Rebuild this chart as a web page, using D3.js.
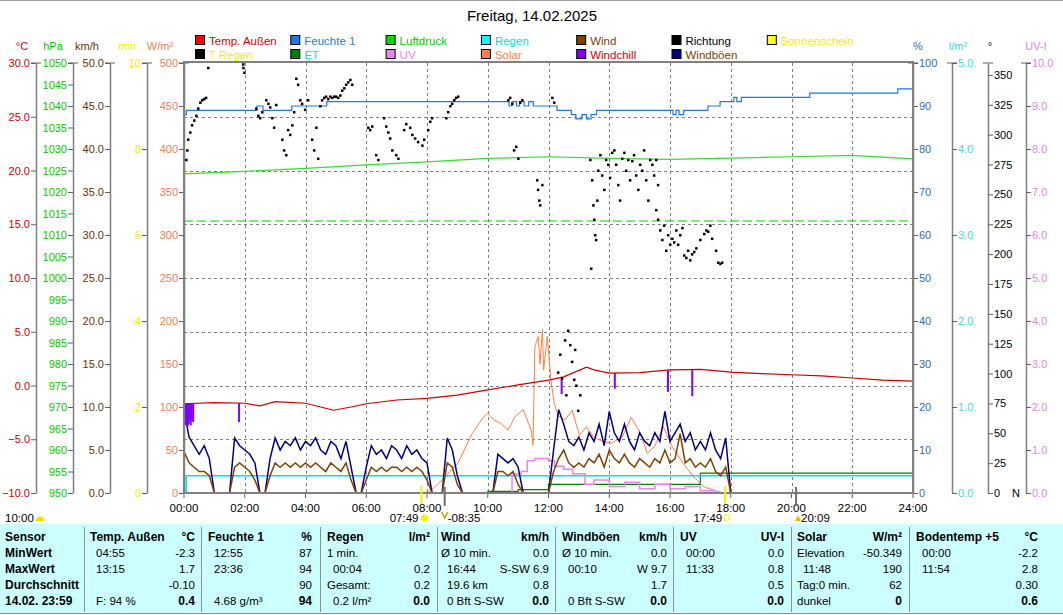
<!DOCTYPE html>
<html lang="de">
<head>
<meta charset="utf-8">
<title>Freitag, 14.02.2025</title>
<script src="https://cdn.jsdelivr.net/npm/d3@7"></script>
<style>
  body { margin: 0; background: #fff; }
  svg { display: block; }
</style>
</head>
<body>
<svg id="chart" width="1063" height="615"></svg>
<script>
// ---- data (hours since 00:00) ----
var tempT = [0,1,2,2.5,3,4,4.5,4.92,5.5,6,7,8,9,10,11,12,12.5,13.25,13.5,14,15,16,17,18,19,20,21,22,23,24];
var tempV = [-1.7,-1.6,-1.65,-1.9,-1.5,-1.65,-2.0,-2.3,-2.0,-1.7,-1.35,-1.2,-0.9,-0.4,0.05,0.5,0.8,1.7,1.45,1.15,1.2,1.45,1.5,1.25,1.1,1.0,0.9,0.7,0.5,0.4];

// windchill dips [hour, °C]
var chillDips = [[0.0,-3.5],[0.03,-3.7],[0.06,-3.4],[0.09,-3.8],[0.12,-3.6],[0.15,-3.3],[0.19,-3.7],[0.22,-3.2],[0.27,-3.4],
                 [1.78,-3.4],[12.4,-0.8],[14.15,-0.3],[15.9,-0.6],[16.7,-1.0]];

var presT = [0,2,4,6,8,10,12,14,16,18,20,22,24];
var presV = [1024.2,1024.8,1025.5,1026.3,1027.0,1027.8,1028.2,1027.8,1027.6,1027.9,1028.2,1028.5,1027.7];

var humT = [0,0.08,2.4,2.6,3.55,4.7,10.7,10.8,10.95,11.05,11.2,11.35,11.5,11.87,12.28,12.75,12.9,13.1,13.25,13.4,13.58,16.1,16.2,16.3,16.45,17.25,17.65,18.1,18.2,18.35,20.6,23.5,24];
var humV = [88,89,90,89,90,91,90,91,90,91,90,91,90,90,89,88,87,88,87,88,89,88,89,88,89,90,91,92,91,92,93,94,94];

var rainT = [0,0.07,24];
var rainV = [0,0.2,0.2];

var etT = [0,10.0,11.0,12.0,17.0,24];
var etV = [0,0.02,0.04,0.1,0.23,0.23];

var solarT = [0,7.8,8.08,8.55,9.02,9.49,9.79,9.99,10.2,10.43,10.67,10.9,11.17,11.43,11.49,11.55,11.66,11.72,11.8,11.84,11.96,12.08,12.19,12.31,12.54,12.78,13.02,13.25,13.49,13.78,14.07,14.43,14.72,15.02,15.25,15.49,15.78,16.07,16.42,16.78,17.13,17.6,17.8,24];
var solarV = [0,0,1.5,17,35,69,85,93,85,81,73,89,97,73,56,170,182,150,190,143,182,131,104,90,85,96,67,77,65,60,58,65,88,70,46,54,77,54,35,19,7,1.5,0,0];

var uvT = [0,10.7,10.8,11.1,11.3,11.55,12.0,12.2,12.5,12.8,13.2,13.5,14.0,14.5,15.0,15.5,16.0,16.5,17.0,17.5,24];
var uvV = [0,0,0.45,0.5,0.75,0.8,0.75,0.62,0.55,0.45,0.2,0.3,0.15,0.25,0.1,0.2,0.1,0.15,0.05,0,0];

// 10-minute values, km/h
var gust10 = [
  9.7,6.5,5.5,4.5,5.5,4,   0,0,0,0,6.4,5.5,   5,4.5,3.5,0,0,4,     6.4,5,6,5.5,6.4,5,
  6,5.5,6.4,5,4.5,6,       5.5,4,6,3,0,0,     3,5.5,4.5,5,4,5.5,   5,4,5.5,4.5,5,4,
  3.5,0,0,0,6.4,5,         2,0,0,0,0,0,       0,0,4.5,4,3.5,4,     3,0,0,0,0,0,
  0,5,9.7,8,6,5.5,         6.5,5,7,6,8,5.5,   9.5,7,6,8,6,5,       7,6,5.5,7,6,9.5,
  6,7,8,6,7,5,             6,5,7,5,4,6.4,     0,0,0,0,0,0,         0,0,0,0,0,0,
  0,0,0,0,0,0,             0,0,0,0,0,0,       0,0,0,0,0,0,         0,0,0,0,0,0];
var wind10 = [
  4.8,3.5,3,2.5,2.5,2,     0,0,0,0,3,3.5,     3,2.5,1.5,0,0,2,     3.5,3,3.5,3,3.5,3,
  3.5,3,3.5,3,2.5,3.5,     3,2.5,3.5,1.5,0,0, 1.5,3,2.5,3,2.5,3,   3,2.5,3,2.5,3,2.5,
  1.5,0,0,0,3.5,3,         1,0,0,0,0,0,       0,0,2.5,2.5,2,2.5,   1,0,0,0,0,0,
  0,2.5,4,5,3.5,3,         3.5,3,4,3.5,4.5,3, 5,4,3.5,4.5,3.5,3,   4,3.5,3,4,3.5,5,
  3.5,4,6.9,3.5,4,3,       3.5,3,4,2.5,2,3,   0,0,0,0,0,0,         0,0,0,0,0,0,
  0,0,0,0,0,0,             0,0,0,0,0,0,       0,0,0,0,0,0,         0,0,0,0,0,0];

// wind direction dots [hour, degrees]
var dirPoints = [
  [0.07,279],[0.10,287],[0.13,296],[0.20,302],[0.26,308],[0.33,312],[0.40,316],[0.46,322],[0.53,327],[0.59,329],[0.66,330],[0.72,331],[0.79,356],
  [1.94,359],[1.95,356],[1.98,352],
  [2.37,322],[2.44,316],[2.50,314],[2.57,319],[2.70,329],[2.77,326],[2.83,323],[2.90,314],[2.96,306],[3.03,325],[3.23,296],[3.29,287],[3.36,283],[3.42,304],[3.49,300],[3.56,308],[3.62,319],
  [3.69,347],[3.75,342],[3.82,329],[3.88,326],[3.98,321],[4.08,329],[4.21,296],[4.28,287],[4.35,306],[4.41,280],[4.48,324],[4.54,329],[4.61,331],[4.67,332],[4.74,330],[4.81,332],[4.87,331],[4.94,332],[5.00,332],[5.07,331],[5.14,333],[5.20,337],[5.27,339],[5.33,342],[5.40,344],[5.47,346],[5.53,342],
  [6.06,306],[6.12,304],[6.19,307],[6.32,283],[6.39,279],[6.58,314],[6.65,307],[6.72,302],[6.78,297],[6.85,287],[6.98,283],[7.05,280],
  [7.24,304],[7.31,309],[7.44,306],[7.51,300],[7.60,297],[7.70,294],[7.84,291],[7.90,296],[8.03,304],[8.10,311],[8.16,314],
  [8.63,314],[8.69,319],[8.76,324],[8.82,326],[8.89,329],[8.95,331],[9.02,332],
  [10.67,329],[10.73,331],[10.80,326],[10.86,287],[10.93,290],[11.00,280],[11.06,327],[11.13,329],
  [11.62,262],[11.65,254],[11.69,245],[11.72,241],[11.79,258],[12.12,331],[12.18,327],
  [12.31,101],[12.38,116],[12.44,96],[12.54,128],[12.58,82],[12.64,136],[12.71,124],[12.77,110],[12.84,95],[12.87,120],[12.91,90],[12.97,69],[13.04,82],
  [13.37,279],[13.40,188],[13.43,262],[13.47,241],[13.50,229],[13.53,216],[13.56,212],[13.60,245],[13.63,270],[13.70,283],[13.76,266],[13.83,254],[13.89,279],[13.96,275],[14.02,264],[14.09,285],[14.16,287],[14.22,275],[14.29,258],[14.35,245],[14.42,280],[14.49,285],[14.55,270],[14.62,279],[14.68,262],[14.75,278],[14.81,283],[14.88,266],[14.95,254],[15.01,275],[15.08,270],[15.14,287],[15.21,262],[15.28,245],[15.34,279],[15.41,275],[15.47,266],[15.54,279],[15.60,258],
  [15.54,237],[15.60,229],[15.67,220],[15.74,212],[15.80,224],[15.87,203],[15.93,216],[16.00,208],[16.07,213],[16.13,210],[16.20,220],[16.26,208],[16.33,216],[16.40,222],[16.46,199],[16.53,197],[16.59,203],[16.66,195],[16.72,200],[16.79,202],[16.86,205],[16.99,212],[17.12,217],[17.19,220],[17.25,219],[17.32,224],[17.38,213],[17.51,203],[17.58,193],[17.65,192],[17.71,193]
];

var sunRise = 7.817, sunSet = 17.817, moonSet = 8.583, moonRise = 20.15;

// legend
var legendRow1 = [["Temp. Außen","#ff0000","#e00000"],["Feuchte 1","#1e78e6","#1e78e6"],["Luftdruck","#00e000","#00cc00"],["Regen","#00ffff","#00e0e0"],["Wind","#804000","#804000"],["Richtung","#000000","#000000"],["Sonnenschein","#ffff00","#f0f000"]];
var legendRow2 = [["T Regen","#000000","#f0f000"],["ET","#007f00","#00e0e0"],["UV","#ee82ee","#ee82ee"],["Solar","#ff8040","#ff8040"],["Windchill","#8000ff","#e00000"],["Windböen","#000080","#804000"]];

// table
var rowNames = ["Sensor","MinWert","MaxWert","Durchschnitt","14.02. 23:59"];
var tableHeads = ["Temp. Außen","Feuchte 1","Regen","Wind","Windböen","UV","Solar","Bodentemp +5"];
var tableUnits = ["°C","%","l/m²","km/h","km/h","UV-I","W/m²","°C"];
var tableLeft = [
  ["04:55","13:15","","F: 94 %"],
  ["12:55","23:36","","4.68 g/m³"],
  ["1 min.","00:04","Gesamt:","0.2 l/m²"],
  ["Ø 10 min.","16:44","19.6 km","0 Bft S-SW"],
  ["Ø 10 min.","00:10","","0 Bft S-SW"],
  ["00:00","11:33","",""],
  ["Elevation","11:48","Tag:0 min.","dunkel"],
  ["00:00","11:54","",""]];
var tableRight = [
  ["-2.3","1.7","-0.10","0.4"],
  ["87","94","90","94"],
  ["","0.2","0.2","0.0"],
  ["0.0","S-SW 6.9","0.8","0.0"],
  ["0.0","W 9.7","1.7","0.0"],
  ["0.0","0.8","0.5","0.0"],
  ["-50.349","190","62","0"],
  ["-2.2","2.8","0.30","0.6"]];

// ---- drawing ----
var FONT = '"Liberation Sans", Arial, sans-serif';
var svg = d3.select("#chart").attr("font-family", FONT);
var L = 184, R = 913, T = 63, B = 493;

var x = d3.scaleLinear().domain([0, 24]).range([L, R]);
var yTemp = d3.scaleLinear().domain([-10, 30]).range([B, T]);
var yHpa = d3.scaleLinear().domain([950, 1050]).range([B, T]);
var yKmh = d3.scaleLinear().domain([0, 50]).range([B, T]);
var yMin = d3.scaleLinear().domain([0, 10]).range([B, T]);
var ySol = d3.scaleLinear().domain([0, 500]).range([B, T]);
var yHum = d3.scaleLinear().domain([0, 100]).range([B, T]);
var yRain = d3.scaleLinear().domain([0, 5]).range([B, T]);
var yDir = d3.scaleLinear().domain([0, 360]).range([B, T]);
var yUv = d3.scaleLinear().domain([0, 10]).range([B, T]);

svg.append("line").attr("x1", 0).attr("x2", 1063).attr("y1", 0.5).attr("y2", 0.5).attr("stroke", "#a0a0a0");

svg.append("text").attr("x", 532).attr("y", 21).attr("text-anchor", "middle")
  .attr("font-size", 15).text("Freitag, 14.02.2025");

// legend
function legendRow(items, y) {
  items.forEach(function (d, i) {
    var lx = 195 + i * 95.3;
    svg.append("rect").attr("x", lx + 0.5).attr("y", y + 0.5).attr("width", 9).attr("height", 9)
      .attr("fill", d[1]).attr("stroke", "#000");
    svg.append("text").attr("x", lx + 14).attr("y", y + 9.5).attr("font-size", 11.5)
      .attr("fill", d[2]).text(d[0]);
  });
}
legendRow(legendRow1, 35);
legendRow(legendRow2, 49);

// grid
var grid = svg.append("g").attr("stroke", "#808080").attr("stroke-dasharray", "3,3").attr("stroke-width", 1);
d3.range(2, 24, 2).forEach(function (h) {
  grid.append("line").attr("x1", Math.round(x(h)) + 0.5).attr("x2", Math.round(x(h)) + 0.5).attr("y1", T).attr("y2", B);
});
d3.range(-5, 30, 5).forEach(function (v) {
  grid.append("line").attr("x1", L).attr("x2", R).attr("y1", Math.round(yTemp(v)) + 0.5).attr("y2", Math.round(yTemp(v)) + 0.5);
});
svg.append("line").attr("x1", L).attr("x2", R).attr("y1", yHpa(1013.25)).attr("y2", yHpa(1013.25))
  .attr("stroke", "#00d000").attr("stroke-dasharray", "9,4");

// axes
function styleAxis(g, color) {
  g.attr("font-family", FONT).attr("font-size", 11);
  g.select(".domain").attr("stroke", "#808080").attr("stroke-width", 1.5);
  g.selectAll(".tick line").attr("stroke", "#606060");
  g.selectAll(".tick text").attr("fill", color);
}
function leftAxis(px, scale, vals, fmt, color) {
  var g = svg.append("g").attr("transform", "translate(" + px + ",0)")
    .call(d3.axisLeft(scale).tickValues(vals).tickFormat(fmt).tickSize(5).tickSizeOuter(0).tickPadding(1));
  styleAxis(g, color);
  g.append("line").attr("x1", -5).attr("x2", 5).attr("y1", T).attr("y2", T).attr("stroke", "#606060");
}
function rightAxis(px, scale, vals, fmt, color) {
  var g = svg.append("g").attr("transform", "translate(" + px + ",0)")
    .call(d3.axisRight(scale).tickValues(vals).tickFormat(fmt).tickSize(5).tickSizeOuter(0).tickPadding(1));
  styleAxis(g, color);
  g.append("line").attr("x1", -5).attr("x2", 5).attr("y1", T).attr("y2", T).attr("stroke", "#606060");
  return g;
}
leftAxis(36, yTemp, d3.range(-10, 31, 5), d3.format(".1f"), "#cc0000");
leftAxis(73, yHpa, d3.range(950, 1051, 5), d3.format("d"), "#00cc00");
leftAxis(110, yKmh, d3.range(0, 51, 5), d3.format(".1f"), "#663300");
leftAxis(147, yMin, d3.range(0, 11, 2), d3.format("d"), "#f0f000");
leftAxis(L, ySol, d3.range(0, 501, 50), d3.format("d"), "#f08050");
rightAxis(R, yHum, d3.range(0, 101, 10), d3.format("d"), "#1e6ec8");
rightAxis(952, yRain, d3.range(0, 5.1, 1), d3.format(".1f"), "#40dcdc");
rightAxis(988, yDir, d3.range(0, 351, 25), d3.format("d"), "#000");
rightAxis(1026, yUv, d3.range(0, 10.1, 1), d3.format(".1f"), "#dd88dd");
svg.append("text").attr("x", 1012).attr("y", yDir(0) + 4).attr("font-size", 11).text("N");

var heads = [[22,"°C","#cc0000"],[53,"hPa","#00cc00"],[87,"km/h","#663300"],[127,"min","#f0f000"],[160,"W/m²","#f08050"],
             [918,"%","#1e6ec8"],[958,"l/m²","#40dcdc"],[990,"°","#000"],[1036,"UV-I","#dd88dd"]];
heads.forEach(function (d) {
  svg.append("text").attr("x", d[0]).attr("y", 50).attr("text-anchor", "middle").attr("font-size", 11)
    .attr("fill", d[2]).text(d[1]);
});

// x axis
var xa = svg.append("g");
d3.range(0, 25, 2).forEach(function (h) {
  xa.append("line").attr("x1", x(h)).attr("x2", x(h)).attr("y1", B).attr("y2", B + 5).attr("stroke", "#606060");
  xa.append("text").attr("x", x(h)).attr("y", 512).attr("text-anchor", "middle").attr("font-size", 11.5)
    .text(d3.format("02d")(h) + ":00");
});

// series
function lineOf(xs, ys, sy, curve) {
  return d3.line().x(function (d, i) { return x(xs[i]); }).y(function (d) { return sy(d); }).curve(curve || d3.curveLinear)(ys);
}
function path(dstr, color, w) {
  return svg.append("path").attr("d", dstr).attr("fill", "none").attr("stroke", color).attr("stroke-width", w || 1);
}
var t10 = d3.range(144).map(function (i) { return i / 6; });

path(lineOf(etT, etV, yRain, d3.curveStepAfter), "#007f00", 1.2);
path(lineOf(rainT, rainV, yRain, d3.curveStepAfter), "#00e0e0", 1.5);
path(lineOf(solarT, solarV, ySol), "#ff8040", 1);
path(lineOf(uvT, uvV, yUv, d3.curveStepAfter), "#ee82ee", 1.5);
path(lineOf(t10, gust10, yKmh), "#000080", 1.5);
path(lineOf(t10, wind10, yKmh), "#804000", 1.5);

var tempAt = d3.scaleLinear().domain(tempT).range(tempV);
svg.append("g").selectAll("line").data(chillDips).join("line")
  .attr("x1", function (d) { return x(d[0]) + 1; }).attr("x2", function (d) { return x(d[0]) + 1; })
  .attr("y1", function (d) { return yTemp(tempAt(d[0])); }).attr("y2", function (d) { return yTemp(d[1]); })
  .attr("stroke", "#8000ff").attr("stroke-width", 2);

path(lineOf(tempT, tempV, yTemp), "#cc0000", 1.2);
path(lineOf(presT, presV, yHpa), "#33dd33", 1.2);
path(lineOf(humT, humV, yHum, d3.curveStepAfter), "#1e78e6", 1.2);

svg.append("g").selectAll("rect").data(dirPoints).join("rect")
  .attr("x", function (d) { return x(d[0]) - 1; }).attr("y", function (d) { return yDir(d[1]) - 1; })
  .attr("width", 2.5).attr("height", 2.5).attr("fill", "#000");

// frame
svg.append("rect").attr("x", L).attr("y", T - 1).attr("width", R - L).attr("height", B - T + 1)
  .attr("fill", "none").attr("stroke", "#808080").attr("stroke-width", 2);

// sun / moon markers
[sunRise, sunSet].forEach(function (h) {
  svg.append("line").attr("x1", x(h)).attr("x2", x(h)).attr("y1", 486).attr("y2", 504).attr("stroke", "#f0f000").attr("stroke-width", 2);
});
[moonSet, moonRise].forEach(function (h) {
  svg.append("line").attr("x1", x(h)).attr("x2", x(h)).attr("y1", 487).attr("y2", 506).attr("stroke", "#707070").attr("stroke-width", 2);
});
svg.append("text").attr("x", 5).attr("y", 522).attr("font-size", 11.5).text("10:00");
svg.append("path").attr("d", d3.arc()({innerRadius: 0, outerRadius: 4.5, startAngle: -Math.PI / 2, endAngle: Math.PI / 2}))
  .attr("transform", "translate(40,521)").attr("fill", "#f0e000");
svg.append("text").attr("x", x(sunRise) - 3).attr("y", 522).attr("text-anchor", "end").attr("font-size", 11.5).text("07:49");
svg.append("circle").attr("cx", x(sunRise) + 3).attr("cy", 518).attr("r", 3.5).attr("fill", "#f0f000");
svg.append("path").attr("d", "M" + (x(moonSet) - 3) + ",512 l3,6 l3,-6").attr("fill", "none").attr("stroke", "#c0a000").attr("stroke-width", 1.5);
svg.append("text").attr("x", x(moonSet) + 3).attr("y", 522).attr("font-size", 11.5).text("-08:35");
svg.append("text").attr("x", x(sunSet) - 3).attr("y", 522).attr("text-anchor", "end").attr("font-size", 11.5).text("17:49");
svg.append("rect").attr("x", x(sunSet) - 1).attr("y", 515).attr("width", 5).attr("height", 5).attr("fill", "none").attr("stroke", "#f0f000");
svg.append("path").attr("d", "M" + (x(moonRise) - 1) + ",521 l3,-6 l3,6 z").attr("fill", "#e0c000");
svg.append("text").attr("x", x(moonRise) + 5).attr("y", 522).attr("font-size", 11.5).text("20:09");

// table
svg.append("rect").attr("x", 0).attr("y", 524).attr("width", 1063).attr("height", 89).attr("fill", "#ccffff");
svg.append("line").attr("x1", 0).attr("x2", 1063).attr("y1", 613.5).attr("y2", 613.5).attr("stroke", "#909090");
var colL = [90, 208, 327, 441, 562, 680, 797, 916];
var colR = [195, 312, 430, 549, 667, 784, 902, 1038];
var seps = [84, 201, 320, 437, 555, 673, 791, 909];
var rowY = [541, 557, 573, 589, 605];
seps.forEach(function (s) {
  svg.append("line").attr("x1", s + 0.5).attr("x2", s + 0.5).attr("y1", 527).attr("y2", 612).attr("stroke", "#909090");
});
rowNames.forEach(function (n, r) {
  svg.append("text").attr("x", 5).attr("y", rowY[r]).attr("font-size", 12).attr("font-weight", "bold").text(n);
});
tableHeads.forEach(function (h, c) {
  svg.append("text").attr("x", colL[c]).attr("y", rowY[0]).attr("font-size", 12).attr("font-weight", "bold").text(h);
  svg.append("text").attr("x", colR[c]).attr("y", rowY[0]).attr("text-anchor", "end").attr("font-size", 12).attr("font-weight", "bold").text(tableUnits[c]);
  tableLeft[c].forEach(function (t, r) {
    var ind = /^(\d\d:\d\d|F:|\d+\.\d|\d+ Bft)/.test(t) ? 6 : 0;
    svg.append("text").attr("x", colL[c] + ind).attr("y", rowY[r + 1]).attr("font-size", 11.5).text(t);
  });
  tableRight[c].forEach(function (t, r) {
    svg.append("text").attr("x", colR[c]).attr("y", rowY[r + 1]).attr("text-anchor", "end")
      .attr("font-size", r === 3 ? 12 : 11.5).attr("font-weight", r === 3 ? "bold" : null).text(t);
  });
});
</script>
</body>
</html>
